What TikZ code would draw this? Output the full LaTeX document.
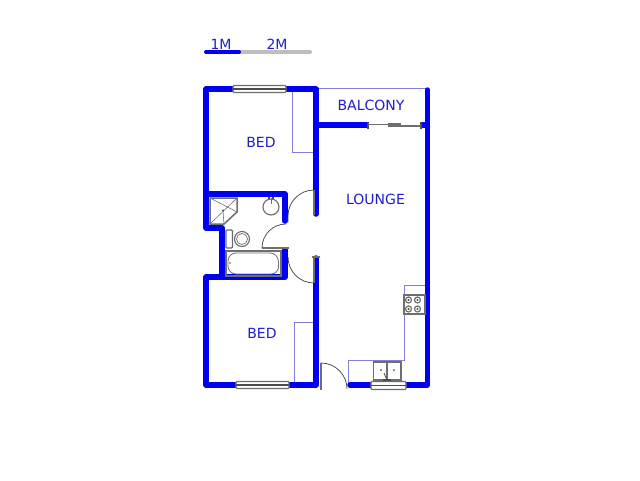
\documentclass[tikz,border=0pt]{standalone}
\usepackage{fontspec}
\setmainfont{DejaVu Sans}
\definecolor{wallblue}{RGB}{0,0,240}
\definecolor{textblue}{RGB}{30,30,205}
\definecolor{thinblue}{RGB}{130,125,225}
\definecolor{scalegray}{RGB}{190,190,190}
\definecolor{fitgray}{RGB}{110,110,110}
\tikzset{
  wall/.style={draw=wallblue, line width=5.5pt, line join=round, line cap=round},
  thinwall/.style={draw=thinblue, line width=0.9pt},
  fitting/.style={draw=fitgray, line width=1.1pt},
  jamb/.style={draw=fitgray, line width=2.2pt},
  swing/.style={draw=black!75, line width=0.7pt},
  label/.style={text=textblue, font=\fontsize{14}{16}\selectfont, inner sep=0pt}
}
\begin{document}
\begin{tikzpicture}[x=1pt, y=-1pt]
\useasboundingbox[fill=white] (0,0) rectangle (640,480);

% scale bar
\draw[line width=4pt, line cap=round, scalegray] (240,52) -- (310,52);
\draw[wall, line width=4pt] (206,52) -- (239,52);
\node[label] (one) at (221,44.5) {1M};
\node[label] (two) at (277,44.5) {2M};

% thin lines
\draw[thinwall] (316,88) -- (427,88);
\draw[thinwall] (292,90) -- (292,152) -- (315,152);
\draw[thinwall] (294,383) -- (294,322) -- (315,322);
\draw[thinwall] (348,383) -- (348,360) -- (404.5,360) -- (404.5,285) -- (425,285);

% walls
\draw[wall] (234,89) -- (206,89) -- (206,194) -- (285,194) -- (285,221);
\draw[wall] (286,89) -- (316,89) -- (316,214);
\draw[wall] (206,194) -- (206,228) -- (222,228) -- (222,277);
\draw[wall] (285,250) -- (285,277) -- (206,277) -- (206,385) -- (236,385);
\draw[wall] (289,385) -- (316,385) -- (316,258);
\draw[wall] (316,125) -- (367,125);
\draw[wall] (423,125) -- (427,125);
\draw[wall] (427.5,90) -- (427.5,385) -- (406,385);
\draw[wall] (371,385) -- (350,385);

% windows
\draw[fitting, fill=white, rounded corners=1pt] (233,85.5) rectangle (286,92.5);
\draw[line width=1.8pt, fitgray!70!black] (233,89) -- (286,89);
\draw[fitting, fill=white, rounded corners=1pt] (236,381.5) rectangle (289,388.5);
\draw[line width=1.8pt, fitgray!70!black] (236,385) -- (289,385);
\draw[fitting, fill=white, rounded corners=1pt] (371,381.5) rectangle (406,389.5);
\draw[line width=1.8pt, fitgray!70!black] (371,385.5) -- (406,385.5);

% sliding door
\fill[white] (368,122) rectangle (421,128);
\draw[fitting, black!70] (368,121.5) -- (368,129);
\draw[fitting, black!70] (421,121.5) -- (421,129);
\draw[fitting] (368,124.5) -- (389,124.5);
\draw[fitting] (400,126) -- (421,126);
\draw[fitting, fill=fitgray] (389,124) rectangle (400,126.5);

% doors
\draw[jamb] (314,190) -- (314,215);
\draw[swing] (314,190) arc (-90:-180:26) -- (288,222);
\draw[jamb] (262,248) -- (289,248);
\draw[swing] (262,248) arc (180:270:24);
\draw[jamb] (314,257) -- (314,283);
\draw[jamb] (312,257) -- (320,257);
\draw[swing] (314,283) arc (90:180:26);
\draw[jamb] (321,363) -- (321,390);
\draw[swing] (321,363) arc (-90:0:26);

% shower
\draw[fitting, line width=1.5pt] (210,198) -- (237,198) -- (237,212) -- (224,224) -- (210,224) -- cycle;
\draw[fitting, line width=0.6pt] (210,198) -- (237,212);
\draw[fitting, line width=0.6pt] (237,198) -- (210,224);
\draw[fitting, line width=0.6pt] (224,224) -- (223,211);
\fill[black!70] (223,210.5) circle (1.2);

% basin
\draw[fitting, fill=white] (271,207) circle (8);
\fill[black!70] (268,197) rectangle (270,199);
\fill[black!70] (272,197) rectangle (274,199);
\draw[fitting, line width=0.6pt] (271,198) -- (271,204);

% toilet
\draw[fitting, rounded corners=1pt] (226,230) rectangle (232.5,248);
\draw[fitting] (242,239) circle (7.5);
\draw[fitting, line width=0.7pt] (242,239) circle (5.5);

% bath
\draw[fitting] (226,251) rectangle (281,276);
\draw[fitting, line width=1.8pt] (226,251) -- (281,251);
\draw[fitting, line width=1.8pt] (226,276) -- (281,276);
\draw[fitting, line width=0.8pt, rounded corners=8pt] (228,253) -- (278,253) -- (279,274) -- (228,274) -- cycle;
\fill[black!70] (230,263) circle (0.8);

% stove
\draw[fitting, fill=white] (404,295) rectangle (425,314);
\foreach \x/\y in {408.5/300, 417.5/300, 408.5/309, 417.5/309} {
  \draw[fitting, line width=1.2pt] (\x,\y) circle (3);
  \fill[black!70] (\x,\y) circle (1.1);
}

% sink
\draw[fitting, fill=white] (373.5,362) rectangle (387,380);
\draw[fitting, fill=white] (387.5,362) rectangle (401,380);
\fill[black!70] (381,370) circle (1);
\fill[black!70] (394,370) circle (1);
\draw[line width=2pt, black!70] (383,380) -- (391,380);
\draw[line width=0.8pt, black!70] (387,380) -- (384,373);

% rooms
\node[label] (bedtop) at (261,142) {BED};
\node[label] (balcony) at (371,105) {BALCONY};
\node[label] (lounge) at (375.5,199) {LOUNGE};
\node[label] (bedbottom) at (262,333) {BED};
\end{tikzpicture}
\end{document}
